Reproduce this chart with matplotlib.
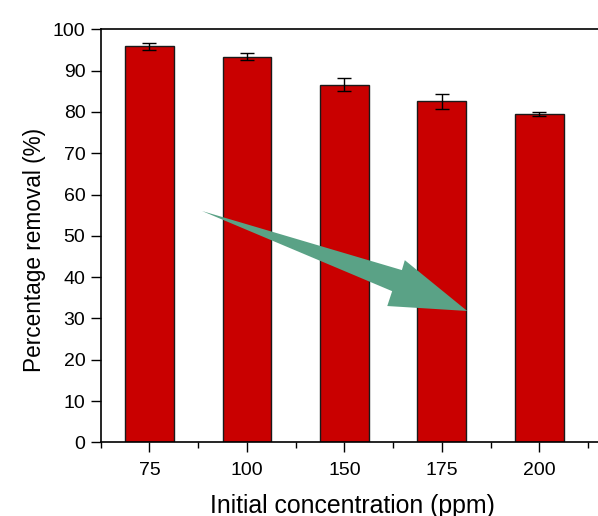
"""
    Percentage removal vs initial concentration bar chart
"""

import matplotlib
matplotlib.use('Agg')
import matplotlib.pyplot as plt
from matplotlib.patches import Polygon
from matplotlib.ticker import MultipleLocator

plt.rcParams['font.family'] = ['Liberation Sans', 'DejaVu Sans']

concentrations = ['75', '100', '150', '175', '200']
removal = [95.9, 93.4, 86.6, 82.6, 79.4]
removal_err = [0.8, 0.8, 1.5, 1.8, 0.5]

fig = plt.figure(figsize=(5.98, 5.16), dpi=100)
ax = fig.add_axes([0.1684, 0.1428, 0.978, 0.8004])

x = list(range(len(concentrations)))
ax.bar(x, removal, width=0.5, color='#C90000', edgecolor='#1a1a1a', linewidth=1.0,
       yerr=removal_err, error_kw={'ecolor': 'black', 'elinewidth': 1.0, 'capsize': 5, 'capthick': 1.0})

ax.set_xlim(-0.5, 5.5)
ax.set_ylim(0, 100)
ax.set_xticks(x)
ax.set_xticklabels(concentrations)
ax.xaxis.set_minor_locator(MultipleLocator(1, offset=0.5))
ax.yaxis.set_major_locator(MultipleLocator(10))

ax.tick_params(axis='both', which='major', direction='out', length=7, width=1.0,
               labelsize=14, colors='black', pad=4)
ax.tick_params(axis='x', which='major', pad=7)
ax.tick_params(axis='x', which='minor', direction='out', length=4, width=1.0)
for side in ['left', 'bottom', 'top', 'right']:
    ax.spines[side].set_linewidth(1.2)

ax.set_xlabel('Initial concentration (ppm)', fontsize=17.9)
ax.xaxis.set_label_coords(0.43, -0.124)
ax.set_ylabel('Percentage removal (%)', fontsize=16.3)
ax.yaxis.set_label_coords(-0.093, 0.466)

# tapered trend arrow
arrow_pts = [(0.54, 56.0), (2.59, 41.7), (2.62, 44.1), (3.26, 31.8),
             (2.44, 33.0), (2.49, 36.6)]
ax.add_patch(Polygon(arrow_pts, closed=True, facecolor='#5AA286', edgecolor='none', zorder=5))

fig.savefig('out.png', dpi=100)
